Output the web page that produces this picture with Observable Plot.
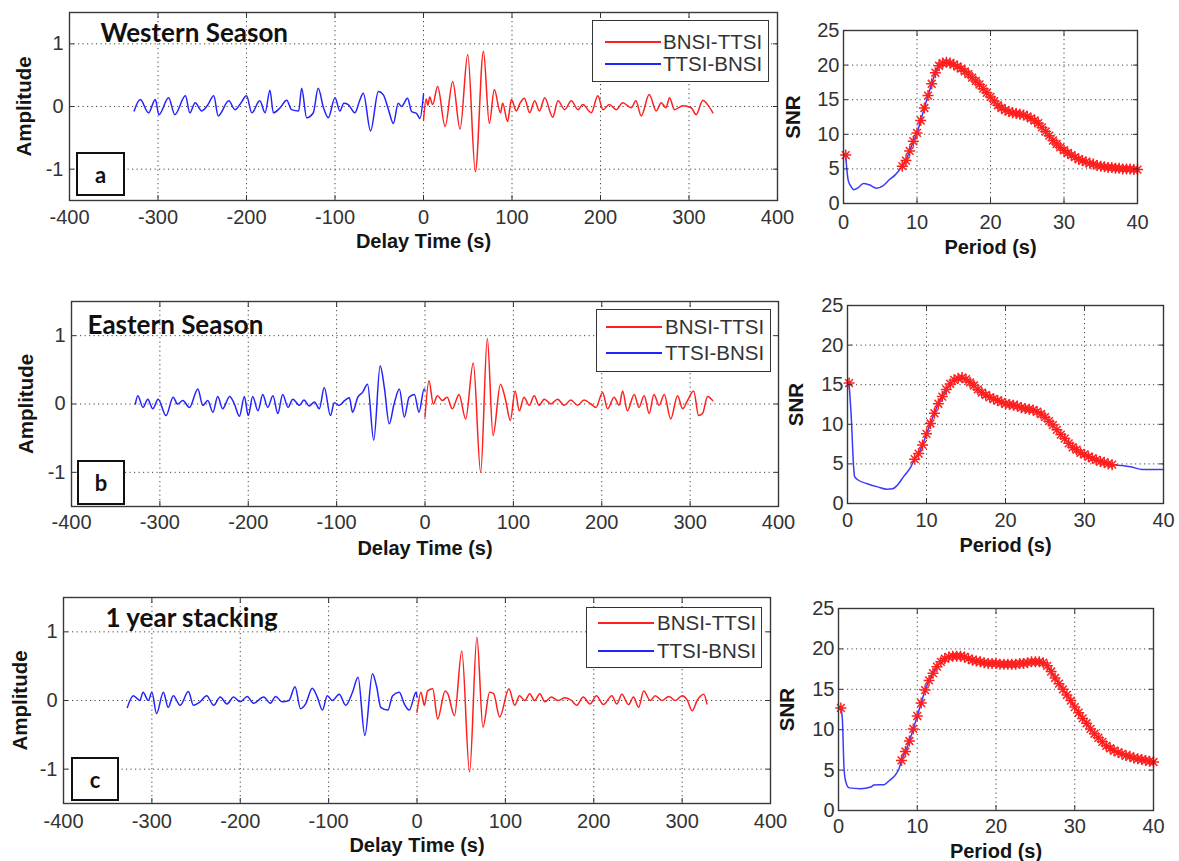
<!DOCTYPE html>
<html>
<head>
<meta charset="utf-8">
<script src="https://cdn.jsdelivr.net/npm/d3@7"></script>
<script src="https://cdn.jsdelivr.net/npm/@observablehq/plot@0.6"></script>
<style>
  html, body { margin: 0; padding: 0; background: #fff; }
  #root { position: relative; width: 1179px; height: 861px; overflow: hidden; background: #fff; }
  .legend { position: absolute; box-sizing: border-box; border: 1.5px solid #333; background: #fff; }
  .legend .ln { position: absolute; height: 2px; }
  .legend .tx { position: absolute; font: 20.5px "Liberation Sans", Arial, sans-serif; color: #333; line-height: 24px; white-space: nowrap; }
  .letter { position: absolute; box-sizing: border-box; border: 2px solid #111; background: #fff;
            font: bold 22px Lato, "Open Sans", sans-serif; color: #111; display: flex; align-items: center; justify-content: center; }
</style>
</head>
<body>
<div id="root"></div>
<script>
// ---------------- DATA ----------------
const panelTitles = ["Western Season", "Eastern Season", "1 year stacking"];
const panelLetters = ["a", "b", "c"];
const seriesNames = ["BNSI-TTSI", "TTSI-BNSI"]; // red, blue

const waveXTicks = [-400, -300, -200, -100, 0, 100, 200, 300, 400];
const waveXGrid = [-300, -200, -100, 0, 100, 200, 300];
const waveYTicks = [-1, 0, 1];
const snrXTicks = [0, 10, 20, 30, 40];
const snrXGrid = [10, 20, 30];
const snrYTicks = [0, 5, 10, 15, 20, 25];
const snrYGrid = [5, 10, 15, 20];

// Western season cross-correlation (delay time s, amplitude)
const westBlueT = [-327,-320,-310.7,-303,-299,-288,-281,-269,-264,-258,-250.6,-244,-237,-232,-220,-213,-207,-200,-194,-185,-179,-173.5,-169.7,-162,-154.6,-149,-141,-137.7,-132,-124.5,-119,-113,-107.6,-100,-94.5,-90,-85,-77.5,-72,-68,-59.8,-51,-45.5,-40,-34,-28.6,-24.8,-18,-13.5,-7.9,-4,0];
const westBlueA = [-0.07,0.11,-0.10,0.11,-0.13,0.14,-0.13,0.17,-0.10,0.06,-0.07,0.02,0.17,-0.15,0.09,-0.05,0.04,0.17,-0.10,0.09,-0.10,0.26,-0.10,-0.02,0.10,-0.05,-0.07,0.29,-0.18,-0.10,0.29,-0.02,-0.18,0.14,-0.07,0.05,0.03,-0.10,0.10,0.21,-0.39,0.24,0.19,-0.03,-0.27,0.05,0,0.13,-0.08,-0.11,-0.19,0.19];
const westRedT = [0,3,5,7,10.3,16,24.4,33,41.3,50,58.6,67.7,74.4,80,86.9,89.5,95,99.3,104.9,109,114,120,125.6,131,137,146,152,159.5,167,174.6,180,189.6,197,202.8,210,218,225,234.8,240,246,255,263,268.6,274,278,283.6,293,302.5,308,315.7,321,327];
const westRedA = [-0.22,0.12,0.02,0.15,0.03,0.32,-0.32,0.40,-0.36,0.83,-1.04,0.88,-0.27,0.27,-0.10,0.05,-0.24,0.11,-0.07,0.05,0.13,-0.10,0.09,-0.07,0.14,-0.17,0.09,-0.05,0.09,-0.05,0.03,-0.10,0.17,-0.05,0.03,-0.05,0.06,-0.02,0.09,-0.15,0.19,-0.07,0.06,-0.02,0.14,-0.05,0.01,-0.02,-0.13,0.10,0.03,-0.10];

// Eastern season
const eastBlueT = [-327.7,-325,-319,-313.7,-308,-302,-293,-285,-280,-274,-266.6,-257,-251.5,-245.8,-240,-234.5,-229,-221,-215.7,-210,-204.4,-200,-195,-189,-183.6,-178,-172,-166.6,-161,-155,-149.6,-142,-137,-131,-125,-119.6,-114,-107,-102.6,-97,-91,-85.5,-82,-76,-70.6,-65,-58,-50.7,-46,-40.5,-35,-29,-23.4,-18,-12,-6.8,-1,0];
const eastBlueA = [0,0.12,-0.05,0.07,-0.07,0.07,-0.17,0.10,0,0.05,-0.05,0.22,-0.02,0.05,-0.12,0.11,-0.07,0.11,0,-0.18,0.11,-0.17,0.11,-0.10,0.14,-0.05,0.12,-0.14,0.14,-0.05,0.07,-0.02,0.06,-0.03,0.03,-0.07,0.24,-0.17,0.02,-0.02,0.05,0.09,-0.12,0.10,0.17,0.29,-0.53,0.56,0.24,-0.29,0,0.22,-0.19,0.10,0.14,-0.12,0.22,0.2];
const eastRedT = [0,4.5,9.4,14,19.6,25,30.9,38.5,46,54.6,63,70.5,77,85.4,91,96.6,102,106.7,112,118,123.6,129,135,142.5,150,157.6,165,172.7,180,187.8,193.4,201,206.6,214,219.8,223.6,229,236.8,242,248,253.7,259,265,270.7,278,285.8,291.5,297,304,309.6,314,319.8,325.5];
const eastRedA = [-0.19,0.34,0,0.12,0.05,0.10,-0.07,0.14,-0.22,0.60,-1.0,0.96,-0.46,0.29,0.07,-0.24,0.19,-0.10,0.10,-0.02,0.12,-0.02,0.07,0,0.07,-0.02,0.06,-0.02,0.06,0,-0.05,0.17,-0.07,0.10,-0.02,0.19,-0.10,0.14,-0.05,0.12,-0.14,0.14,-0.02,0.14,-0.22,0.12,-0.07,0.05,0.19,-0.17,-0.14,0.11,0.05];

// 1 year stacking
const yearBlueT = [-327.7,-321,-313.6,-310,-304,-300,-294.7,-287,-281.5,-275.8,-268,-258.7,-253,-245.5,-238,-230,-222.7,-215,-207.6,-200,-192,-185,-173.5,-166,-160,-152.6,-145,-138,-131.8,-126,-118.5,-112.8,-107,-101.5,-95.8,-88,-80.7,-73,-66.7,-59,-50.4,-45.5,-41,-33,-27.6,-20,-14.4,-8.7,-1,0];
const yearBlueA = [-0.10,0.07,0,0.12,0,0.12,-0.19,0.12,-0.10,0.07,-0.07,0.13,-0.07,-0.02,0.07,-0.07,0.05,-0.05,0.05,-0.02,0.06,-0.04,0.05,-0.04,0.06,-0.02,0,0.20,-0.12,-0.05,0.18,0.05,-0.14,0.07,0,0.09,-0.07,0.12,0.34,-0.51,0.39,0.19,-0.10,-0.14,0.07,0.12,-0.05,-0.14,0.12,0.05];
const yearRedT = [0,4.5,8.3,12,17.8,23.4,31.8,34.8,42.4,50.7,59.5,67.8,74.6,82.2,86.7,93.6,104,110.6,116,122,127.6,133,139,144.7,152,160,167.4,175,180.7,188,195.8,203,211,220.5,226,231.8,239.4,245,250.8,256.5,264,269.7,277,285,292.4,300,305.7,311.4,317,324.6,328];
const yearRedA = [-0.17,0.12,-0.07,0.14,0.17,-0.27,0.14,0.10,-0.22,0.72,-1.04,0.92,-0.39,0.12,0.10,-0.24,0.17,-0.07,0.07,0,0.10,0,0.10,-0.02,0.05,0,0.04,0,-0.07,0.05,-0.05,0.07,-0.06,0.07,-0.05,0.09,-0.06,0.05,-0.10,0.14,0,0.07,0,0.06,0,0.07,0.01,-0.15,0,0.09,-0.05];

// SNR vs period: red asterisk samples
const starPeriodsAC = [8,8.5,9,9.5,10,10.5,11,11.5,12,12.5,13,13.5,14,14.5,15,15.5,16,16.5,17,17.5,18,18.5,19,19.5,20,20.5,21,21.5,22,22.5,23,23.5,24,24.5,25,25.5,26,26.5,27,27.5,28,28.5,29,29.5,30,30.5,31,31.5,32,32.5,33,33.5,34,34.5,35,35.5,36,36.5,37,37.5,38,38.5,39,39.5,40];
const starPeriodsB = [8.5,9,9.5,10,10.5,11,11.5,12,12.5,13,13.5,14,14.5,15,15.5,16,16.5,17,17.5,18,18.5,19,19.5,20,20.5,21,21.5,22,22.5,23,23.5,24,24.5,25,25.5,26,26.5,27,27.5,28,28.5,29,29.5,30,30.5,31,31.5,32,32.5,33,33.5];
const westSnrStar = [5.4,6.2,7.6,9.0,10.2,12.0,13.8,15.6,17.3,18.9,19.9,20.3,20.4,20.3,20.1,19.8,19.5,19.1,18.7,18.2,17.7,17.2,16.6,16.0,15.4,14.8,14.2,13.8,13.5,13.3,13.1,13.0,12.9,12.8,12.6,12.3,12.0,11.6,11.0,10.4,9.8,9.1,8.6,8.1,7.7,7.3,7.0,6.7,6.4,6.2,6.0,5.8,5.7,5.5,5.4,5.3,5.2,5.2,5.1,5.1,5.0,5.0,5.0,4.9,4.9];
const eastSnrStar = [5.6,6.3,7.4,8.8,10.1,11.4,12.6,13.5,14.4,15.1,15.6,15.8,15.9,15.7,15.3,14.9,14.4,14.0,13.7,13.4,13.2,13.0,12.8,12.6,12.5,12.4,12.3,12.1,12.0,11.9,11.8,11.6,11.3,10.9,10.4,9.9,9.3,8.7,8.2,7.6,7.1,6.8,6.4,6.2,5.9,5.7,5.5,5.3,5.2,5.0,4.9];
const yearSnrStar = [6.2,7.3,8.6,10.1,11.7,13.3,14.9,16.1,17.0,17.8,18.4,18.8,19.0,19.1,19.1,19.1,19.0,18.8,18.6,18.5,18.4,18.3,18.2,18.2,18.2,18.1,18.1,18.1,18.1,18.1,18.2,18.2,18.3,18.4,18.4,18.4,18.3,17.9,17.2,16.4,15.7,15.0,14.3,13.6,12.8,12.1,11.4,10.8,10.1,9.5,9.0,8.5,8.0,7.7,7.4,7.2,7.0,6.8,6.7,6.5,6.4,6.3,6.2,6.1,6.0];
// single early asterisk [period, SNR]
const westSnrFirst = [0.3, 7.0];
const eastSnrFirst = [0.2, 15.2];
const yearSnrFirst = [0.3, 12.7];
// blue SNR curve outside the asterisk range
const westSnrLowP = [0.3,0.45,0.65,1.0,1.4,2.0,2.7,3.5,4.5,5.4,6.3,7.0,7.5];
const westSnrLowV = [7.0,5.0,3.3,2.5,2.0,2.3,2.9,2.7,2.2,2.6,3.5,4.1,4.7];
const eastSnrLowP = [0.2,0.5,0.75,0.9,1.3,2.5,3.8,5.0,5.7,6.3,7.1,8.0];
const eastSnrLowV = [15.1,10.5,5.0,3.4,3.0,2.5,2.1,1.8,1.85,2.3,3.4,4.6];
const eastSnrTailP = [34.8,36,37.3,40];
const eastSnrTailV = [4.8,4.6,4.3,4.3];
const yearSnrLowP = [0.3,0.5,0.7,0.9,1.35,2.8,4.1,4.5,5.8,6.4,7.3,7.7];
const yearSnrLowV = [12.8,11.1,5.3,3.65,2.8,2.7,2.9,3.15,3.2,3.65,4.5,5.2];

// ---------------- DRAWING ----------------
const root = document.getElementById("root");
const FONT = "'Liberation Sans', Arial, sans-serif";
const TITLE_FONT = "Lato, 'Open Sans', sans-serif";
const RED = "#ff1f1f", BLUE = "#2323ff";
const gridStyle = {stroke: "#222", strokeOpacity: 0.85, strokeWidth: 1, strokeDasharray: "1.2,3.3"};

// MATLAB-like '*' marker: plus + cross
const starSymbol = {
  draw(context, size) {
    const r = Math.sqrt(size / Math.PI);
    const d = r * Math.SQRT1_2;
    context.moveTo(0, -r); context.lineTo(0, r);
    context.moveTo(-r, 0); context.lineTo(r, 0);
    context.moveTo(-d, -d); context.lineTo(d, d);
    context.moveTo(-d, d); context.lineTo(d, -d);
  }
};

function pts(T, V) {
  if (T.length !== V.length) console.error("length mismatch", T.length, V.length);
  return T.map((t, i) => ({x: t, y: V[i]}));
}

function place(el, left, top) {
  const d = document.createElement("div");
  d.style.cssText = `position:absolute;left:${left}px;top:${top}px;`;
  d.appendChild(el);
  root.appendChild(d);
}

function axes(xTicks, yTicks, xPad, yPad) {
  const fmt = d => String(d);
  return [
    Plot.axisX({anchor: "bottom", ticks: xTicks, tickSize: -5, tickPadding: xPad, tickFormat: fmt, label: null}),
    Plot.axisX({anchor: "top", ticks: xTicks, tickSize: -5, tickFormat: () => "", label: null}),
    Plot.axisY({anchor: "left", ticks: yTicks, tickSize: -5, tickPadding: yPad, tickFormat: fmt, label: null}),
    Plot.axisY({anchor: "right", ticks: yTicks, tickSize: -5, tickFormat: () => "", label: null})
  ];
}

function labels(xText, yText, xLab, yLab) {
  return [
    Plot.text([xText], {text: d => d, frameAnchor: "bottom", dy: xLab, lineAnchor: "middle", textAnchor: "middle",
      fontWeight: "bold", fontSize: 20, fill: "#151515"}),
    Plot.text([yText], {text: d => d, frameAnchor: "left", dx: -yLab, rotate: -90, lineAnchor: "middle", textAnchor: "middle",
      fontWeight: "bold", fontSize: 20.5, fill: "#151515"})
  ];
}

const waveLayouts = [
  {L: 69, R: 777, T: 12, B: 200, xPad: 13.8, yPad: 11, xLab: 41, yLab: 45, tDx: 31, tDy: 21,
   box: [76, 152, 49, 44], lg: {x: 592, y: 20, w: 177, h: 62, r: 21, b: 43, lx: 12, lw: 56, tx: 70}},
  {L: 71, R: 778, T: 301, B: 506, xPad: 12.8, yPad: 11, xLab: 42, yLab: 45, tDx: 16, tDy: 24,
   box: [77, 460, 48, 45], lg: {x: 596, y: 309, w: 175, h: 63, r: 17, b: 43, lx: 9, lw: 56, tx: 68}},
  {L: 63, R: 770, T: 597, B: 803, xPad: 15.3, yPad: 11, xLab: 42, yLab: 43, tDx: 42, tDy: 21,
   box: [71, 757, 48, 44], lg: {x: 586, y: 607, w: 176, h: 61, r: 15, b: 43, lx: 11, lw: 56, tx: 70}}
];
const snrLayouts = [
  {L: 843, R: 1137, T: 30, B: 203, xPad: 15.8, yPad: 9, xLab: 44, yLab: 50},
  {L: 847, R: 1163, T: 305, B: 503, xPad: 13.8, yPad: 9, xLab: 42, yLab: 51},
  {L: 838, R: 1153, T: 608, B: 810, xPad: 13.3, yPad: 9, xLab: 41, yLab: 51}
];

const waveData = [
  {blue: pts(westBlueT, westBlueA), red: pts(westRedT, westRedA)},
  {blue: pts(eastBlueT, eastBlueA), red: pts(eastRedT, eastRedA)},
  {blue: pts(yearBlueT, yearBlueA), red: pts(yearRedT, yearRedA)}
];
const snrData = [
  {stars: [{x: westSnrFirst[0], y: westSnrFirst[1]}, ...pts(starPeriodsAC, westSnrStar)],
   line: [...pts(westSnrLowP, westSnrLowV), ...pts(starPeriodsAC, westSnrStar)]},
  {stars: [{x: eastSnrFirst[0], y: eastSnrFirst[1]}, ...pts(starPeriodsB, eastSnrStar)],
   line: [...pts(eastSnrLowP, eastSnrLowV), ...pts(starPeriodsB, eastSnrStar), ...pts(eastSnrTailP, eastSnrTailV)]},
  {stars: [{x: yearSnrFirst[0], y: yearSnrFirst[1]}, ...pts(starPeriodsAC, yearSnrStar)],
   line: [...pts(yearSnrLowP, yearSnrLowV), ...pts(starPeriodsAC, yearSnrStar)]}
];

const baseStyle = {fontFamily: FONT, fontSize: "20px", color: "#333", background: "transparent", overflow: "visible", maxWidth: "none"};

waveLayouts.forEach((c, i) => {
  const svgTop = c.T - 12, width = c.R + 30, height = c.B - svgTop + 56;
  const chart = Plot.plot({
    width, height,
    marginLeft: c.L, marginRight: width - c.R, marginTop: c.T - svgTop, marginBottom: svgTop + height - c.B,
    x: {domain: [-400, 400], label: null},
    y: {domain: [-1.5, 1.5], label: null},
    style: baseStyle,
    marks: [
      Plot.gridX(waveXGrid, gridStyle),
      Plot.gridY(waveYTicks, gridStyle),
      Plot.line(waveData[i].blue, {x: "x", y: "y", stroke: BLUE, strokeWidth: 1.5, curve: "monotone-x"}),
      Plot.line(waveData[i].red, {x: "x", y: "y", stroke: RED, strokeWidth: 1.5, curve: "monotone-x"}),
      Plot.frame({stroke: "#3a3a3a", strokeWidth: 1.4}),
      ...axes(waveXTicks, waveYTicks, c.xPad, c.yPad),
      ...labels("Delay Time (s)", "Amplitude", c.xLab, c.yLab),
      Plot.text([panelTitles[i]], {text: d => d, frameAnchor: "top-left", dx: c.tDx, dy: c.tDy, textAnchor: "start",
        lineAnchor: "middle", fontFamily: TITLE_FONT, fontWeight: "bold", fontSize: 26, fill: "#111"})
    ]
  });
  place(chart, 0, svgTop);

  // panel letter box
  const bx = document.createElement("div");
  bx.className = "letter";
  bx.style.left = c.box[0] + "px"; bx.style.top = c.box[1] + "px";
  bx.style.width = c.box[2] + "px"; bx.style.height = c.box[3] + "px";
  bx.textContent = panelLetters[i];
  root.appendChild(bx);

  // legend
  const g = c.lg;
  const lg = document.createElement("div");
  lg.className = "legend";
  lg.style.cssText = `left:${g.x}px;top:${g.y}px;width:${g.w}px;height:${g.h}px;`;
  [[RED, g.r, seriesNames[0]], [BLUE, g.b, seriesNames[1]]].forEach(([col, yy, name]) => {
    const ln = document.createElement("div");
    ln.className = "ln";
    ln.style.cssText = `left:${g.lx}px;top:${yy - 1}px;width:${g.lw}px;background:${col};`;
    lg.appendChild(ln);
    const tx = document.createElement("div");
    tx.className = "tx";
    tx.style.cssText = `left:${g.tx}px;top:${yy - 12}px;`;
    tx.textContent = name;
    lg.appendChild(tx);
  });
  root.appendChild(lg);
});

snrLayouts.forEach((c, i) => {
  const svgLeft = 770, svgTop = c.T - 15, width = 1179 - svgLeft, height = c.B - svgTop + 56;
  const chart = Plot.plot({
    width, height,
    marginLeft: c.L - svgLeft, marginRight: svgLeft + width - c.R, marginTop: c.T - svgTop, marginBottom: svgTop + height - c.B,
    x: {domain: [0, 40], label: null},
    y: {domain: [0, 25], label: null},
    style: baseStyle,
    marks: [
      Plot.gridX(snrXGrid, gridStyle),
      Plot.gridY(snrYGrid, gridStyle),
      Plot.line(snrData[i].line, {x: "x", y: "y", stroke: "#3a3aff", strokeWidth: 1.5, curve: "monotone-x"}),
      Plot.dot(snrData[i].stars, {x: "x", y: "y", symbol: starSymbol, r: 5.5, stroke: RED, strokeWidth: 1.5}),
      Plot.frame({stroke: "#3a3a3a", strokeWidth: 1.4}),
      ...axes(snrXTicks, snrYTicks, c.xPad, c.yPad),
      ...labels("Period (s)", "SNR", c.xLab, c.yLab)
    ]
  });
  place(chart, svgLeft, svgTop);
});
</script>
</body>
</html>
